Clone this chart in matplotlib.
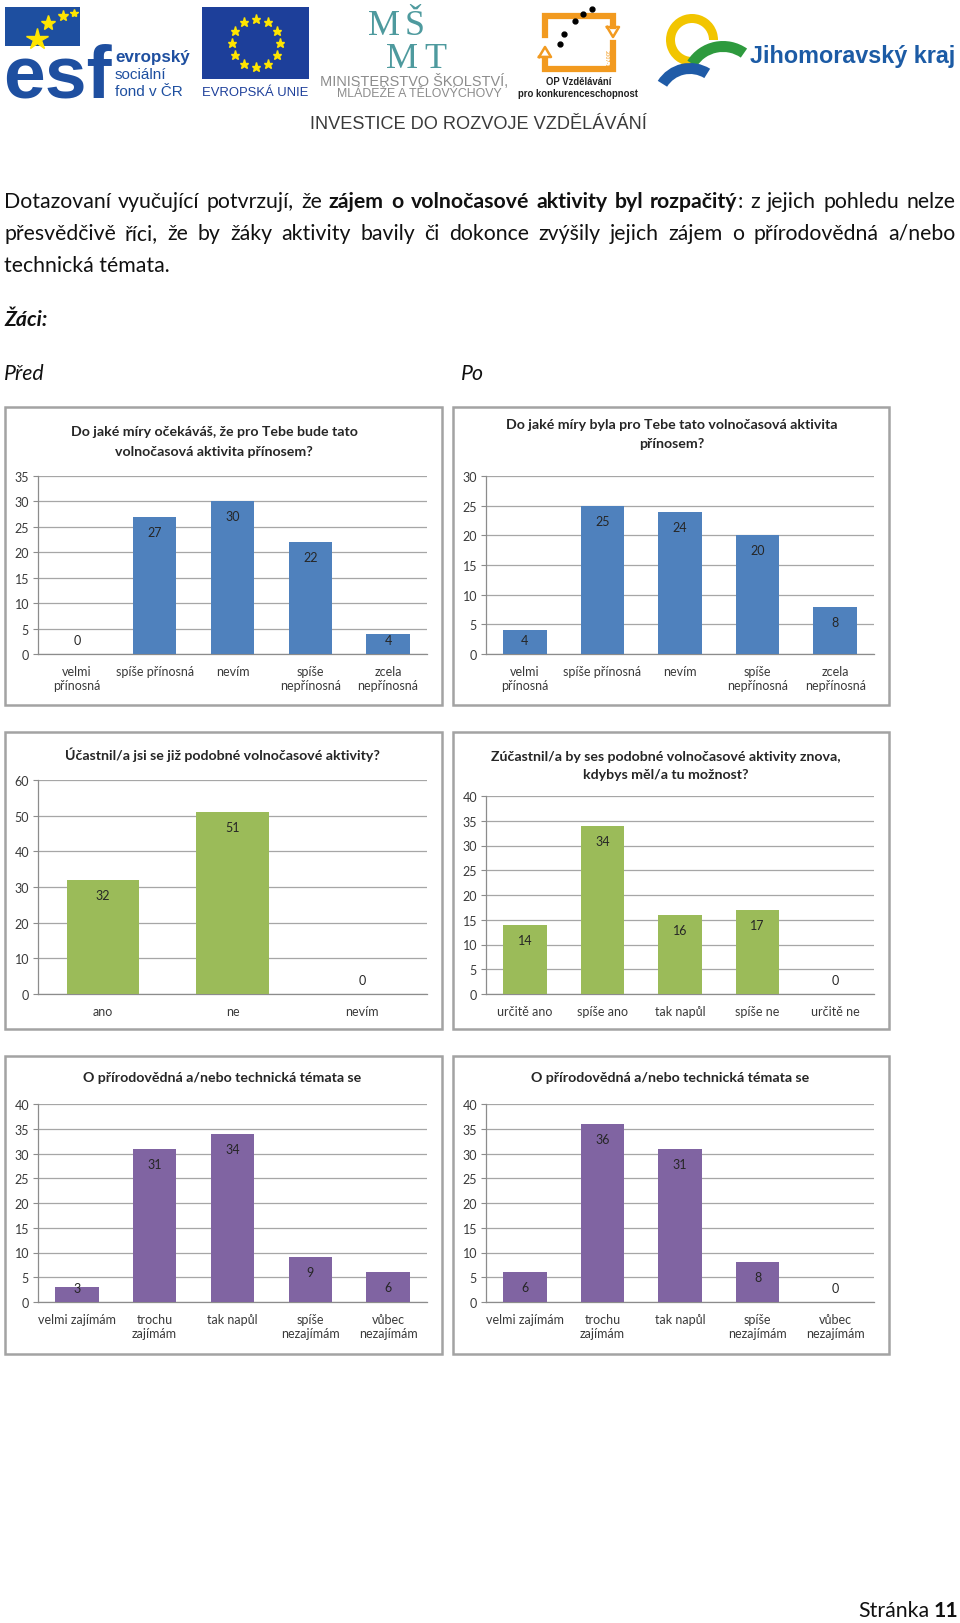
import matplotlib
matplotlib.use('Agg')
import matplotlib.pyplot as plt
from matplotlib.patches import Rectangle, Wedge
import numpy as np

# ---------------- data ----------------
c1_title = ["Do jaké míry očekáváš, že pro Tebe bude tato", "volnočasová aktivita přínosem?"]
c1_cats = ["velmi\npřínosná", "spíše přínosná", "nevím", "spíše\nnepřínosná", "zcela\nnepřínosná"]
c1_vals = [0, 27, 30, 22, 4]

c2_title = ["Do jaké míry byla pro Tebe tato volnočasová aktivita", "přínosem?"]
c2_cats = ["velmi\npřínosná", "spíše přínosná", "nevím", "spíše\nnepřínosná", "zcela\nnepřínosná"]
c2_vals = [4, 25, 24, 20, 8]

c3_title = ["Účastnil/a jsi se již podobné volnočasové aktivity?"]
c3_cats = ["ano", "ne", "nevím"]
c3_vals = [32, 51, 0]

c4_title = ["Zúčastnil/a by ses podobné volnočasové aktivity znova,", "kdybys měl/a tu možnost?"]
c4_cats = ["určitě ano", "spíše ano", "tak napůl", "spíše ne", "určitě ne"]
c4_vals = [14, 34, 16, 17, 0]

c5_title = ["O přírodovědná a/nebo technická témata se"]
c5_cats = ["velmi zajímám", "trochu\nzajímám", "tak napůl", "spíše\nnezajímám", "vůbec\nnezajímám"]
c5_vals = [3, 31, 34, 9, 6]

c6_title = ["O přírodovědná a/nebo technická témata se"]
c6_cats = ["velmi zajímám", "trochu\nzajímám", "tak napůl", "spíše\nnezajímám", "vůbec\nnezajímám"]
c6_vals = [6, 36, 31, 8, 0]

# ---------------- page ----------------
W, H = 960, 1624
fig = plt.figure(figsize=(W / 100, H / 100), dpi=100)
fig.patch.set_facecolor('white')
R = fig.canvas.get_renderer()

SANS = ['Lato', 'DejaVu Sans']
ARIAL = ['Liberation Sans', 'DejaVu Sans']
SERIF = ['Liberation Serif', 'DejaVu Serif']

pg = fig.add_axes([0, 0, 1, 1], zorder=0)
pg.set_xlim(0, W)
pg.set_ylim(H, 0)
pg.axis('off')


def fit_text(x0, x1, y, s, family=ARIAL, va='baseline', **kw):
    t = pg.text(x0, y, s, fontsize=10, family=family, ha='left', va=va, **kw)
    w = t.get_window_extent(R).width
    t.set_fontsize(10 * (x1 - x0) / w)
    return t


# ---- header logos ----
ESF_BLUE = '#1E4FA0'
pg.add_patch(Rectangle((5, 8), 75, 39, color=ESF_BLUE, lw=0))
pg.text(3, 98, "esf", family=ARIAL, weight='bold', fontsize=54, color=ESF_BLUE, va='baseline', ha='left')
for (sx, sy, ss) in [(37, 40, 16), (48, 24, 11), (63, 17, 8), (74, 14, 6)]:
    pg.plot(sx, sy, marker='*', ms=ss, color='#FFE500', mec='#FFE500')
fit_text(115, 190, 62, "evropský", weight='bold', color=ESF_BLUE)
fit_text(115, 167, 79, "sociální", color=ESF_BLUE)
fit_text(115, 183, 96, "fond v ČR", color=ESF_BLUE)

EU_BLUE = '#1D3F9A'
pg.add_patch(Rectangle((202, 8), 107, 72, color=EU_BLUE, lw=0))
for k in range(12):
    a = 2 * np.pi * k / 12
    pg.plot(256 + 24 * np.cos(a), 44 + 24 * np.sin(a), marker='*', ms=6.5, color='#FFE500', mec='#FFE500')
fit_text(202, 308, 96, "EVROPSKÁ UNIE", color=EU_BLUE)

MS_TEAL = '#4E9A9E'
for (ch, lx, by) in [("M", 368, 35), ("Š", 405, 35), ("M", 386, 68), ("T", 424, 68)]:
    pg.text(lx, by, ch, family=SERIF, fontsize=26, color=MS_TEAL, ha='left', va='baseline')
fit_text(320, 508, 86, "MINISTERSTVO ŠKOLSTVÍ,", color='#8C8C8C')
fit_text(337, 502, 97, "MLÁDEŽE A TĚLOVÝCHOVY", color='#8C8C8C')

OP_OR = '#F29A1F'
pg.plot([545, 545, 613, 613], [36, 17, 17, 27], color=OP_OR, lw=4.5, solid_joinstyle='miter')
pg.plot([613, 613, 545, 545], [44, 70, 70, 60], color=OP_OR, lw=4.5, solid_joinstyle='miter')
pg.plot([607, 619, 613, 607], [28, 28, 38, 28], color=OP_OR, lw=1.8)
pg.plot([539, 551, 545, 539], [58, 58, 48, 58], color=OP_OR, lw=1.8)
for (dx, dy) in [(560, 45), (564, 35), (575, 22), (583, 15), (592, 10)]:
    pg.plot(dx, dy, 'o', ms=3.5, color='black')
pg.text(606, 60, "2007-13", fontsize=3.5, rotation=270, color=OP_OR, ha='center', va='center')
op2 = fit_text(518, 638, 97, "pro konkurenceschopnost", weight='bold', color='#222222')
pg.text(579, 85, "OP Vzdělávání", family=ARIAL, weight='bold', fontsize=op2.get_fontsize(),
        color='#222222', ha='center', va='baseline')

pg.add_patch(Wedge((692, 41), 26, 75, 360, width=9, color='#F2C500', lw=0))
pg.add_patch(Wedge((723, 84), 42, 212, 305, width=11, color='#2E9A3E', lw=0))
pg.add_patch(Wedge((690, 102), 38, 212, 302, width=11, color='#1F5BA7', lw=0))
fit_text(750, 955, 63, "Jihomoravský kraj", weight='bold', color='#1C5BA5')

fit_text(310, 647, 129, "INVESTICE DO ROZVOJE VZDĚLÁVÁNÍ", color='#3A3A3A')

# ---- body text ----
BODY_FS = 15.3
TXT = '#111111'


def justified(words, y, x0, x1):
    widths = []
    for w in words:
        tot = 0
        for s, wt in w:
            t = pg.text(0, 0, s, fontsize=BODY_FS, family=SANS, weight=wt)
            tot += t.get_window_extent(R).width
            t.remove()
        widths.append(tot)
    gap = (x1 - x0 - sum(widths)) / (len(words) - 1)
    x = x0
    for w, wd in zip(words, widths):
        xx = x
        for s, wt in w:
            t = pg.text(xx, y, s, fontsize=BODY_FS, family=SANS, weight=wt, color=TXT, ha='left', va='baseline')
            xx += t.get_window_extent(R).width
        x += wd + gap


line1 = [[(w, 'normal')] for w in "Dotazovaní vyučující potvrzují, že".split()]
line1 += [[(w, 'bold')] for w in "zájem o volnočasové aktivity byl".split()]
line1 += [[("rozpačitý", 'bold'), (":", 'normal')]]
line1 += [[(w, 'normal')] for w in "z jejich pohledu nelze".split()]
line2 = [[(w, 'normal')] for w in "přesvědčivě říci, že by žáky aktivity bavily či dokonce zvýšily jejich zájem o přírodovědná a/nebo".split()]
justified(line1, 208, 4, 955)
justified(line2, 240, 4, 955)
pg.text(4, 272, "technická témata.", fontsize=BODY_FS, family=SANS, color=TXT, va='baseline')
pg.text(4, 326, "Žáci:", fontsize=BODY_FS, family=SANS, weight='bold', style='italic', color=TXT, va='baseline')
pg.text(4, 380, "Před", fontsize=BODY_FS, family=SANS, style='italic', color=TXT, va='baseline')
pg.text(461, 380, "Po", fontsize=BODY_FS, family=SANS, style='italic', color=TXT, va='baseline')

t1 = pg.text(958, 1617, "11", fontsize=BODY_FS, family=SANS, weight='bold', color=TXT, ha='right', va='baseline')
w11 = t1.get_window_extent(R).width
pg.text(958 - w11 - 4, 1617, "Stránka", fontsize=BODY_FS, family=SANS, color=TXT, ha='right', va='baseline')

# ---------------- charts ----------------
BLUE, GREEN, PURPLE = '#4F81BD', '#9BBB59', '#8064A2'
GRID = '#A6A6A6'
LBL = '#3A3A3A'
TICK_FS = 9
TITLE_FS = 10.2


def chart(frame, plot, title, tx, ty, cats, vals, ymax, step, color):
    fx0, fy0, fx1, fy1 = frame
    pg.add_patch(Rectangle((fx0, fy0), fx1 - fx0, fy1 - fy0, facecolor='white', edgecolor='#A3A3A3', lw=1.8))
    for line, yy in zip(title, ty):
        pg.text(tx, yy, line, fontsize=TITLE_FS, family=SANS, weight='bold', color='#262626', ha='center', va='center')
    l, t, r, b = plot
    ax = fig.add_axes([l / W, 1 - b / H, (r - l) / W, (b - t) / H], zorder=2)
    ax.patch.set_alpha(0)
    n = len(cats)
    x = np.arange(n)
    ax.bar(x, vals, width=0.56, color=color, zorder=3)
    ax.set_xlim(-0.5, n - 0.5)
    ax.set_ylim(0, ymax)
    ax.set_yticks(np.arange(0, ymax + 1, step))
    ax.yaxis.grid(True, color=GRID, lw=0.9)
    ax.set_axisbelow(True)
    for s in ['top', 'right']:
        ax.spines[s].set_visible(False)
    for s in ['left', 'bottom']:
        ax.spines[s].set_color('#8C8C8C')
        ax.spines[s].set_linewidth(0.9)
    ax.set_xticks(x)
    ax.set_xticklabels(cats, fontsize=TICK_FS, family=SANS, color=LBL, linespacing=1.15)
    ax.tick_params(axis='x', length=0, pad=8)
    ax.tick_params(axis='y', length=3.5, color='#8C8C8C', pad=3, labelsize=TICK_FS, labelcolor=LBL)
    for lab in ax.get_yticklabels():
        lab.set_family(SANS)
    ph = b - t
    for i, v in enumerate(vals):
        hpx = v / ymax * ph
        off = max(hpx - 15, 14)
        ax.annotate(str(v), (i, 0), xytext=(0, off), textcoords='offset pixels',
                    ha='center', va='center', fontsize=TICK_FS, family=SANS, color='#262626', zorder=4)
    return ax


chart((5, 408, 442, 706), (38, 477, 427, 655), c1_title, 214, [432, 452], c1_cats, c1_vals, 35, 5, BLUE)
chart((453, 408, 889, 706), (486, 477, 874, 655), c2_title, 672, [425, 444], c2_cats, c2_vals, 30, 5, BLUE)
chart((5, 733, 442, 1030), (38, 781, 427, 995), c3_title, 222, [755], c3_cats, c3_vals, 60, 10, GREEN)
chart((453, 733, 889, 1030), (486, 797, 874, 995), c4_title, 666, [757, 775], c4_cats, c4_vals, 40, 5, GREEN)
chart((5, 1057, 442, 1355), (38, 1105, 427, 1303), c5_title, 222, [1078], c5_cats, c5_vals, 40, 5, PURPLE)
chart((453, 1057, 889, 1355), (486, 1105, 874, 1303), c6_title, 670, [1078], c6_cats, c6_vals, 40, 5, PURPLE)

fig.savefig('out.png', dpi=100, facecolor='white')
